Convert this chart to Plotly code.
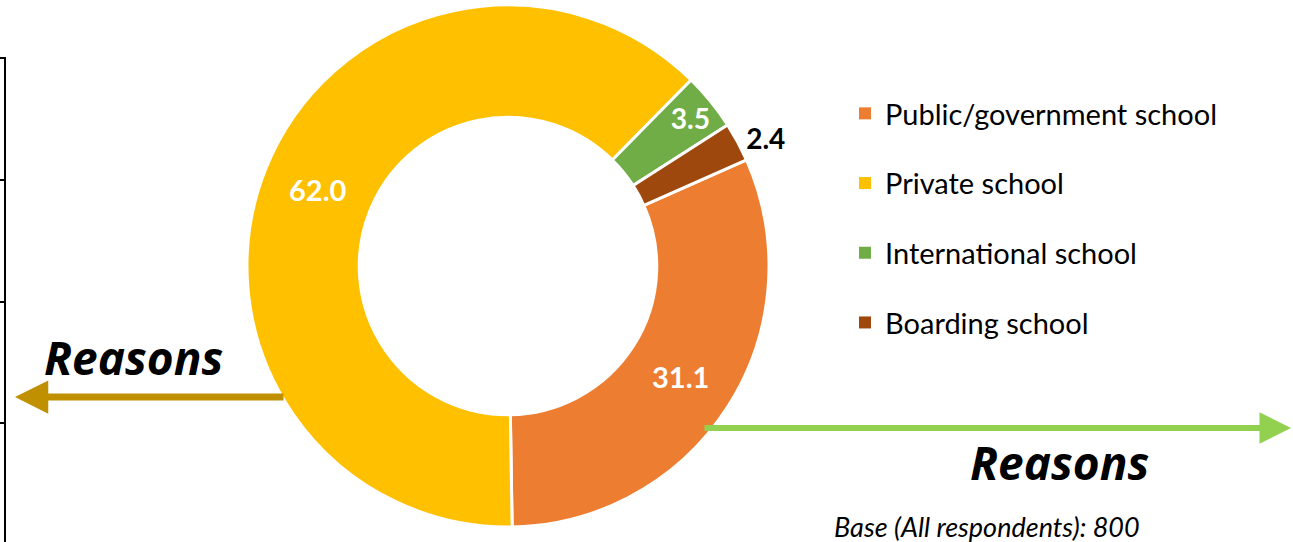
import plotly.graph_objects as go

categories = ["Public/government school", "Private school", "International school", "Boarding school"]
values = [31.1, 62.0, 3.5, 2.4]
colors = ["#ED7D31", "#FFC000", "#70AD47", "#9E480E"]
label_positions = ["inside", "inside", "inside", "outside"]
base_note = "Base (All respondents): 800"
arrow_label = "Reasons"

W, H = 1293, 542
FONT = "Lato"

def px(x):
    return x / W

def py(y):
    return 1 - y / H

fig = go.Figure()

fig.add_trace(go.Pie(
    labels=categories,
    values=values,
    sort=False,
    direction="clockwise",
    rotation=66,
    hole=0.57,
    marker=dict(colors=colors, line=dict(color="white", width=3)),
    texttemplate="<b>%{value:.1f}</b>",
    textposition=label_positions,
    insidetextorientation="horizontal",
    insidetextfont=dict(color="white", size=29, family=FONT),
    outsidetextfont=dict(color="black", size=28, family=FONT),
    showlegend=False,
    hoverinfo="label+value",
    domain=dict(x=[px(247), px(769)], y=[py(527), py(5)]),
))

# legend entries (one group each so spacing can match the reference)
for i, (cat, col) in enumerate(zip(categories, colors)):
    fig.add_trace(go.Scatter(
        x=[None], y=[None], mode="markers", name=cat,
        marker=dict(symbol="square", size=12, color=col),
        legendgroup=f"g{i}", showlegend=True,
    ))

fig.update_layout(
    width=W, height=H,
    margin=dict(l=0, r=0, t=0, b=0),
    paper_bgcolor="white", plot_bgcolor="white",
    xaxis=dict(visible=False), yaxis=dict(visible=False),
    font=dict(family=FONT, color="black"),
    legend=dict(
        x=px(845), y=py(88), xanchor="left", yanchor="top",
        font=dict(size=29, family=FONT, color="black"),
        tracegroupgap=29, itemwidth=30,
        bgcolor="rgba(0,0,0,0)",
    ),
)

shapes = []
# partial axis on the left edge
shapes.append(dict(type="line", xref="paper", yref="paper",
                   x0=px(5), x1=px(5), y0=py(57), y1=py(542),
                   line=dict(color="black", width=2)))
for ty in [58, 180, 302, 423]:
    shapes.append(dict(type="line", xref="paper", yref="paper",
                       x0=px(0), x1=px(5), y0=py(ty), y1=py(ty),
                       line=dict(color="black", width=2)))
fig.update_layout(shapes=shapes)

ann = []
# left arrow
ann.append(dict(xref="paper", yref="paper", axref="pixel", ayref="pixel",
                x=px(15), y=py(397), ax=270, ay=0, text="",
                showarrow=True, arrowhead=2, arrowsize=0.95, arrowwidth=7,
                arrowcolor="#C09000"))
# right arrow
ann.append(dict(xref="paper", yref="paper", axref="pixel", ayref="pixel",
                x=px(1291), y=py(428), ax=-588, ay=0, text="",
                showarrow=True, arrowhead=2, arrowsize=1.05, arrowwidth=6,
                arrowcolor="#92D050"))
ann.append(dict(xref="paper", yref="paper", x=px(133), y=py(357),
                text=f"<b><i>{arrow_label}</i></b>", showarrow=False,
                font=dict(size=46, family="Open Sans", color="black"),
                xanchor="center", yanchor="middle"))
ann.append(dict(xref="paper", yref="paper", x=px(1059), y=py(462),
                text=f"<b><i>{arrow_label}</i></b>", showarrow=False,
                font=dict(size=46, family="Open Sans", color="black"),
                xanchor="center", yanchor="middle"))
ann.append(dict(xref="paper", yref="paper", x=px(987), y=py(526),
                text=f"<i>{base_note}</i>", showarrow=False,
                font=dict(size=27, family=FONT, color="black"),
                xanchor="center", yanchor="middle"))
fig.update_layout(annotations=ann)

fig.write_html("out.html")
